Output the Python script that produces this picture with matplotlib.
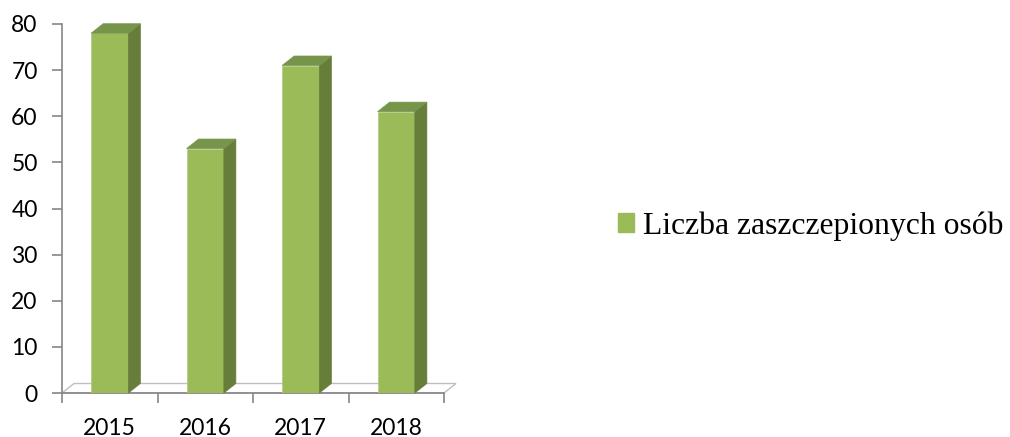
import matplotlib.pyplot as plt
from matplotlib.patches import Patch, Polygon

years = ["2015", "2016", "2017", "2018"]
vaccinated = [78, 53, 71, 61]
legend_label = "Liczba zaszczepionych osób"
y_ticks = [0, 10, 20, 30, 40, 50, 60, 70, 80]

FRONT = "#9BBB59"
SIDE = "#677E3A"
TOP = "#77954A"
AXIS = "#868686"
FLOOR = "#BFBFBF"


def main():
    fig = plt.figure(figsize=(10.10, 4.37), dpi=100)
    ax = fig.add_axes([62 / 1010, 44 / 437, 382 / 1010, 369 / 437])

    n = len(years)
    ax.set_xlim(-0.5, n - 0.5)
    ax.set_ylim(0, 80)

    # depth offset of the fake 3d, in data units (~12 px across, ~9 px up)
    px_x = n / 382
    px_y = 80 / 369
    dx = 12 * px_x
    dy = 9.5 * px_y
    width = 0.39

    floor = Polygon(
        [(-0.5, 0), (n - 0.5, 0), (n - 0.5 + dx, dy), (-0.5 + dx, dy)],
        closed=True, facecolor="white", edgecolor=FLOOR, lw=1.0,
        clip_on=False, zorder=1,
    )
    ax.add_patch(floor)

    for i, v in enumerate(vaccinated):
        left = i - width / 2
        right = i + width / 2
        ax.bar(i, v, width=width, color=FRONT, edgecolor="#B5CC88",
               lw=0.6, zorder=3)
        side = Polygon(
            [(right, 0), (right + dx, dy), (right + dx, v + dy), (right, v)],
            closed=True, facecolor=SIDE, edgecolor=SIDE, lw=0.5,
            clip_on=False, zorder=3,
        )
        top = Polygon(
            [(left, v), (right, v), (right + dx, v + dy), (left + dx, v + dy)],
            closed=True, facecolor=TOP, edgecolor=TOP, lw=0.5,
            clip_on=False, zorder=3,
        )
        ax.add_patch(side)
        ax.add_patch(top)

    for s in ["top", "right"]:
        ax.spines[s].set_visible(False)
    ax.spines["left"].set_color(AXIS)
    ax.spines["bottom"].set_color(AXIS)
    ax.spines["left"].set_linewidth(1.2)
    ax.spines["bottom"].set_linewidth(1.2)

    ax.set_yticks(y_ticks)
    ax.tick_params(axis="y", direction="out", length=7, width=1.2,
                   color=AXIS, pad=10.5, labelsize=16.5)

    # tick marks between categories, labels at the centres
    ax.set_xticks([i - 0.5 for i in range(n + 1)])
    ax.set_xticklabels([])
    ax.set_xticks(range(n), minor=True)
    ax.set_xticklabels(years, minor=True)
    ax.tick_params(axis="x", which="major", direction="out", length=7,
                   width=1.2, color=AXIS)
    ax.tick_params(axis="x", which="minor", length=0, pad=18, labelsize=16.5)

    for lab in ax.get_yticklabels() + ax.get_xticklabels(minor=True):
        lab.set_fontfamily("Lato")
        lab.set_color("black")

    fig.legend(
        handles=[Patch(facecolor=FRONT, edgecolor=FRONT)],
        labels=[legend_label],
        loc="center left",
        bbox_to_anchor=(618 / 1010, 1 - 226 / 437),
        frameon=False,
        prop={"family": "Liberation Serif", "size": 22.8},
        handlelength=0.5,
        handleheight=0.5,
        handletextpad=0.3,
        borderpad=0,
        borderaxespad=0,
    )

    fig.savefig("out.png", dpi=100)


if __name__ == "__main__":
    main()
